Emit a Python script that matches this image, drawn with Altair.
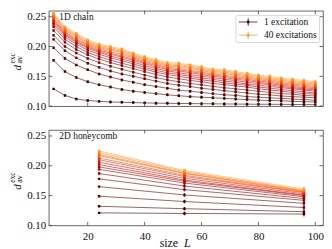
import altair as alt
import pandas as pd

# ---------------- data ----------------
L_chain = [8, 12, 16, 20, 24, 28, 32, 36, 40, 44, 48, 52, 56, 60, 64, 68, 72, 76, 80, 84, 88, 92, 96, 100]
L_honey = [24, 54, 96]
excitations = [1, 2, 3, 4, 5, 6, 7, 8, 10, 12, 15, 20, 25, 30, 35, 40]

chain = [
    [0.129, 0.118, 0.112, 0.1095, 0.108, 0.107, 0.1065, 0.106, 0.1055, 0.105, 0.1048, 0.1045, 0.1043, 0.1041, 0.1039, 0.1037, 0.1035, 0.1033, 0.1032, 0.1031, 0.1030, 0.1028, 0.1027, 0.1025],
    [0.177, 0.158, 0.148, 0.141, 0.136, 0.132, 0.128, 0.125, 0.123, 0.121, 0.119, 0.1175, 0.116, 0.115, 0.114, 0.113, 0.112, 0.111, 0.110, 0.1095, 0.109, 0.108, 0.1075, 0.107],
    [0.198, 0.180, 0.169, 0.161, 0.154, 0.149, 0.144, 0.140, 0.136, 0.133, 0.130, 0.127, 0.125, 0.123, 0.121, 0.119, 0.118, 0.116, 0.115, 0.114, 0.113, 0.112, 0.111, 0.110],
    [0.212, 0.193, 0.181, 0.172, 0.165, 0.159, 0.154, 0.150, 0.146, 0.142, 0.138, 0.135, 0.133, 0.130, 0.128, 0.126, 0.124, 0.122, 0.120, 0.119, 0.117, 0.116, 0.115, 0.114],
    [0.219, 0.200, 0.189, 0.180, 0.173, 0.167, 0.162, 0.157, 0.152, 0.148, 0.144, 0.141, 0.138, 0.136, 0.133, 0.131, 0.129, 0.127, 0.125, 0.123, 0.121, 0.120, 0.118, 0.117],
    [0.227, 0.207, 0.195, 0.186, 0.179, 0.173, 0.168, 0.163, 0.158, 0.153, 0.149, 0.146, 0.143, 0.141, 0.138, 0.136, 0.134, 0.132, 0.129, 0.127, 0.125, 0.123, 0.121, 0.120],
    [0.233, 0.212, 0.200, 0.190, 0.183, 0.177, 0.172, 0.167, 0.162, 0.157, 0.153, 0.150, 0.147, 0.144, 0.142, 0.139, 0.137, 0.135, 0.132, 0.130, 0.128, 0.126, 0.124, 0.122],
    [0.237, 0.216, 0.204, 0.194, 0.187, 0.181, 0.176, 0.171, 0.165, 0.160, 0.156, 0.153, 0.150, 0.147, 0.145, 0.142, 0.140, 0.137, 0.135, 0.133, 0.131, 0.129, 0.127, 0.125],
    [0.240, 0.219, 0.207, 0.197, 0.190, 0.184, 0.179, 0.174, 0.168, 0.163, 0.159, 0.156, 0.153, 0.150, 0.148, 0.145, 0.143, 0.140, 0.138, 0.136, 0.133, 0.131, 0.129, 0.127],
    [0.243, 0.221, 0.209, 0.199, 0.192, 0.187, 0.182, 0.177, 0.171, 0.166, 0.161, 0.159, 0.156, 0.153, 0.150, 0.148, 0.145, 0.143, 0.140, 0.138, 0.135, 0.133, 0.131, 0.129],
    [0.245, 0.223, 0.211, 0.201, 0.194, 0.189, 0.184, 0.179, 0.173, 0.168, 0.163, 0.161, 0.158, 0.155, 0.152, 0.150, 0.147, 0.145, 0.142, 0.140, 0.137, 0.135, 0.133, 0.131],
    [0.247, 0.225, 0.213, 0.203, 0.196, 0.191, 0.187, 0.181, 0.175, 0.170, 0.165, 0.163, 0.160, 0.157, 0.154, 0.152, 0.149, 0.147, 0.144, 0.142, 0.139, 0.137, 0.135, 0.133],
    [0.250, 0.227, 0.216, 0.205, 0.198, 0.194, 0.190, 0.183, 0.177, 0.172, 0.167, 0.166, 0.163, 0.160, 0.156, 0.155, 0.152, 0.149, 0.146, 0.144, 0.141, 0.139, 0.137, 0.135],
    [0.252, 0.229, 0.218, 0.207, 0.200, 0.196, 0.192, 0.185, 0.179, 0.174, 0.169, 0.168, 0.165, 0.162, 0.158, 0.157, 0.154, 0.151, 0.148, 0.146, 0.143, 0.141, 0.139, 0.137],
    [0.254, 0.231, 0.220, 0.209, 0.202, 0.198, 0.194, 0.187, 0.181, 0.176, 0.171, 0.170, 0.167, 0.164, 0.160, 0.159, 0.156, 0.153, 0.150, 0.148, 0.145, 0.143, 0.141, 0.139],
    [0.256, 0.233, 0.222, 0.211, 0.204, 0.200, 0.196, 0.189, 0.183, 0.178, 0.173, 0.172, 0.169, 0.166, 0.162, 0.161, 0.158, 0.155, 0.152, 0.150, 0.147, 0.145, 0.143, 0.141],
]
chain_err = [0.0015, 0.0015, 0.0018, 0.002, 0.002, 0.0022, 0.0022, 0.0024, 0.0024, 0.0025, 0.0025, 0.0026,
             0.0026, 0.0027, 0.0027, 0.0028, 0.0028, 0.0028, 0.0029, 0.0029, 0.003, 0.003, 0.003, 0.003]

honey = [
    [0.121, 0.120, 0.119],
    [0.132, 0.128, 0.123],
    [0.149, 0.140, 0.130],
    [0.165, 0.151, 0.137],
    [0.178, 0.160, 0.142],
    [0.187, 0.166, 0.145],
    [0.194, 0.171, 0.148],
    [0.198, 0.174, 0.150],
    [0.202, 0.176, 0.151],
    [0.206, 0.179, 0.153],
    [0.210, 0.182, 0.155],
    [0.213, 0.184, 0.156],
    [0.217, 0.187, 0.157],
    [0.219, 0.188, 0.158],
    [0.222, 0.190, 0.159],
    [0.225, 0.192, 0.161],
]
honey_err = [0.0012, 0.003, 0.004]

x_ticks = [20, 40, 60, 80, 100]
y_ticks = [0.10, 0.15, 0.20, 0.25]
legend_labels = ["1 excitation", "40 excitations"]

colors = ["#390000", "#4a0000", "#5b0000", "#6b0000", "#7c0000", "#8c0000", "#9d0000", "#ad0000",
          "#be0000", "#cf1400", "#df2b00", "#f04100", "#ff5700", "#ff6d00", "#ff8307", "#ff9933"]


def to_frame(Ls, table, errs):
    rows = []
    for e, vals in zip(excitations, table):
        for L, v, er in zip(Ls, vals, errs):
            rows.append({"exc": e, "L": L, "v": v, "lo": v - er, "hi": v + er})
    return pd.DataFrame(rows)


df_chain = to_frame(L_chain, chain, chain_err)
df_honey = to_frame(L_honey, honey, honey_err)

W, H = 276, 96
FONT = "Liberation Serif"
xs = alt.Scale(domain=[6.3, 102.7], nice=False, zero=False)
ys = alt.Scale(domain=[0.10, 0.26], nice=False, zero=False)
cs = alt.Scale(domain=excitations, range=colors)
yaxis = alt.Axis(values=y_ticks, format=".2f", ticks=False, tickSize=0, domain=False, grid=False,
                 title=None, labelPadding=3)


def one(text, **kw):
    return alt.Chart(pd.DataFrame({"a": [0]})).mark_text(text=text, font=FONT, color="#111", **kw)


def blank():
    return alt.Chart(pd.DataFrame({"a": [0]}))


def legend_layers():
    box = blank().mark_rect(fill="white", fillOpacity=0.85, stroke="#cccccc", strokeWidth=0.8,
                            cornerRadius=2).encode(
        x=alt.value(188.3), x2=alt.value(272.6), y=alt.value(4.6), y2=alt.value(32))
    out = [box]
    for k, (lab, c) in enumerate(zip(legend_labels, [colors[0], colors[-1]])):
        yc = 11.3 + 13.3 * k
        out.append(blank().mark_rule(color=c, strokeWidth=1, opacity=0.75).encode(
            x=alt.value(191.3), x2=alt.value(210), y=alt.value(yc)))
        out.append(blank().mark_rule(color=c, strokeWidth=1, opacity=0.9).encode(
            x=alt.value(200.7), y=alt.value(yc - 3.6), y2=alt.value(yc + 3.6)))
        out.append(blank().mark_point(filled=True, size=6, shape="square", color=c, opacity=1).encode(
            x=alt.value(200.7), y=alt.value(yc)))
        out.append(one(lab, align="left", baseline="middle", fontSize=9.5).encode(
            x=alt.value(216.6), y=alt.value(yc)))
    return out


def panel(df, label, bottom):
    xaxis = alt.Axis(values=x_ticks, format="d", ticks=False, tickSize=0, domain=False, grid=False,
                     title=None, labelPadding=5) if bottom else None
    X = alt.X("L:Q", scale=xs, axis=xaxis)
    col = alt.Color("exc:O", scale=cs, legend=None)
    base = alt.Chart(df)
    lines = base.mark_line(strokeWidth=1, opacity=0.6, clip=True).encode(
        x=X, y=alt.Y("v:Q", scale=ys, axis=yaxis), color=col, detail="exc:O")
    bars = base.mark_rule(strokeWidth=1, opacity=0.9, clip=True).encode(
        x=X, y=alt.Y("lo:Q", scale=ys, axis=yaxis), y2="hi:Q", color=col)
    pts = base.mark_point(filled=True, size=6, shape="square", opacity=1, clip=True).encode(
        x=X, y=alt.Y("v:Q", scale=ys, axis=yaxis), color=col)

    xt = alt.Chart(pd.DataFrame({"t": x_ticks}))
    yt = alt.Chart(pd.DataFrame({"t": y_ticks}))
    tick_style = dict(color="#444", strokeWidth=0.8)
    xtx = alt.X("t:Q", scale=xs, axis=xaxis)
    yty = alt.Y("t:Q", scale=ys, axis=yaxis)
    t1 = xt.mark_rule(**tick_style).encode(x=xtx, y=alt.value(0), y2=alt.value(3.5))
    t2 = xt.mark_rule(**tick_style).encode(x=xtx, y=alt.value(H), y2=alt.value(H - 3.5))
    t3 = yt.mark_rule(**tick_style).encode(y=yty, x=alt.value(0), x2=alt.value(3.5))
    t4 = yt.mark_rule(**tick_style).encode(y=yty, x=alt.value(W), x2=alt.value(W - 3.5))

    lab = one(label, align="left", baseline="middle", fontSize=9.5).encode(
        x=alt.value(10.6), y=alt.value(6))
    d = one("d", angle=270, align="center", baseline="alphabetic", fontSize=11, fontStyle="italic").encode(
        x=alt.value(-28.2), y=alt.value(57.5))
    av = one("av", angle=270, align="left", baseline="alphabetic", fontSize=8).encode(
        x=alt.value(-26.7), y=alt.value(53))
    ex = one("exc", angle=270, align="left", baseline="alphabetic", fontSize=7.5).encode(
        x=alt.value(-34.2), y=alt.value(53))
    layers = [lines, bars, pts, t1, t2, t3, t4, lab, d, av, ex]
    if bottom:
        s = one("size", align="left", baseline="alphabetic", fontSize=12).encode(
            x=alt.value(111.6), y=alt.value(117.5))
        Lt = one("L", align="left", baseline="alphabetic", fontSize=12, fontStyle="italic").encode(
            x=alt.value(136), y=alt.value(117.5))
        layers += [s, Lt]
    else:
        layers += legend_layers()
    return alt.layer(*layers).properties(width=W, height=H)


top = panel(df_chain, "1D chain", False)
bottom = panel(df_honey, "2D honeycomb", True)

chart = alt.vconcat(top, bottom, spacing=17).properties(
    padding={"left": 0, "top": 1, "right": 0, "bottom": 0}
).configure_view(stroke="#444", strokeWidth=0.8).configure_axis(
    labelFont=FONT, labelFontSize=11, labelColor="#111")

chart.save("out.html", embed_options={"renderer": "svg", "actions": False})
